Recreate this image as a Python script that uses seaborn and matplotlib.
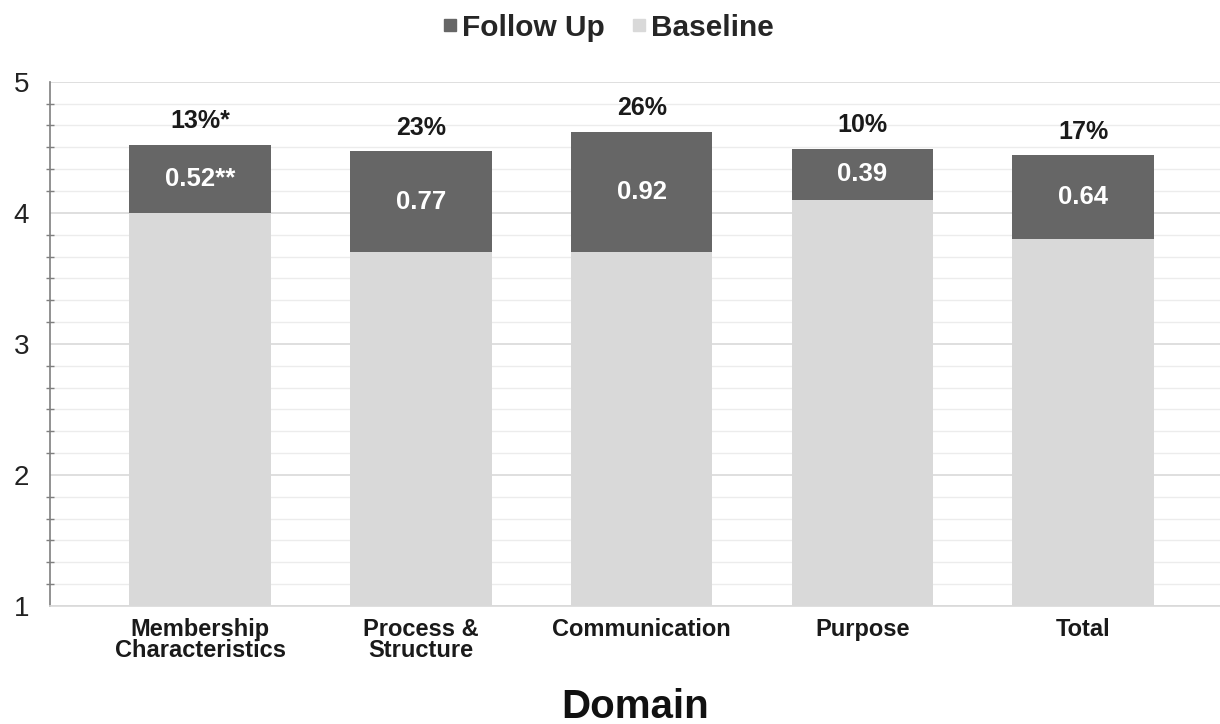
import matplotlib
matplotlib.use("Agg")
import matplotlib.pyplot as plt
from matplotlib.lines import Line2D
from matplotlib.ticker import MultipleLocator
import seaborn as sns
import pandas as pd

categories = ["Membership\nCharacteristics", "Process &\nStructure", "Communication", "Purpose", "Total"]
baseline = [4.00, 3.70, 3.70, 4.10, 3.80]
follow_up_change = [0.52, 0.77, 0.92, 0.39, 0.64]
change_labels = ["0.52**", "0.77", "0.92", "0.39", "0.64"]
pct_labels = ["13%*", "23%", "26%", "10%", "17%"]

followup_total = [b + c for b, c in zip(baseline, follow_up_change)]
df = pd.DataFrame({"Domain": categories, "Baseline": baseline, "FollowUp": followup_total})

sns.set_theme(style="white")
plt.rcParams["font.family"] = ["Liberation Sans", "DejaVu Sans"]

DARK = "#666666"
LIGHT = "#d9d9d9"

fig = plt.figure(figsize=(12.2, 7.24), dpi=100)
ax = fig.add_axes([0.041, 0.163, 0.959, 0.724])

sns.barplot(data=df, x="Domain", y="FollowUp", color=DARK, saturation=1, width=0.64, ax=ax,
            zorder=3, linewidth=0)
sns.barplot(data=df, x="Domain", y="Baseline", color=LIGHT, saturation=1, width=0.64, ax=ax,
            zorder=3, linewidth=0)

ax.set_ylim(1, 5)
ax.set_xlim(-0.68, 4.62)
ax.yaxis.set_major_locator(MultipleLocator(1))
ax.yaxis.set_minor_locator(MultipleLocator(1 / 6))
ax.grid(axis="y", which="major", color="#d9d9d9", linewidth=1.2, zorder=0)
ax.grid(axis="y", which="minor", color="#ececec", linewidth=1.0, zorder=0)
ax.grid(axis="x", visible=False)
ax.set_axisbelow(True)

for s in ["top", "right"]:
    ax.spines[s].set_visible(False)
ax.spines["left"].set_color("#7f7f7f")
ax.spines["left"].set_linewidth(1.2)
ax.spines["bottom"].set_color("#d9d9d9")
ax.spines["bottom"].set_linewidth(1.2)

ax.tick_params(axis="y", which="major", direction="inout", length=14, width=1.2, color="#7f7f7f",
               labelsize=20, labelcolor="#222222", pad=8)
ax.tick_params(axis="y", which="minor", direction="inout", length=6, width=1.0, color="#7f7f7f", left=True)
ax.tick_params(axis="x", length=0, pad=9)
for lab in ax.get_xticklabels():
    lab.set_fontweight("bold")
    lab.set_fontsize(17)
    lab.set_color("#1a1a1a")
    lab.set_linespacing(0.85)

ax.set_ylabel("")
ax.set_xlabel("Domain", fontsize=29, fontweight="bold", color="#111111", labelpad=19)

for i in range(len(categories)):
    top = followup_total[i]
    mid = baseline[i] + follow_up_change[i] / 2
    ax.text(i, mid, change_labels[i], ha="center", va="center", color="white",
            fontsize=18.5, fontweight="bold", zorder=5)
    ax.annotate(pct_labels[i], xy=(i, top), xytext=(0, 17), textcoords="offset points",
                ha="center", va="center", fontsize=18, fontweight="bold", color="#1a1a1a", zorder=5)

handles = [
    Line2D([], [], marker="s", linestyle="none", markersize=8, color=DARK, label="Follow Up"),
    Line2D([], [], marker="s", linestyle="none", markersize=8, color=LIGHT, label="Baseline"),
]
fig.legend(handles=handles, loc="center", bbox_to_anchor=(0.497, 0.962), ncol=2, frameon=False,
           prop={"weight": "bold", "size": 21.5}, handletextpad=0.05, columnspacing=0.8, handlelength=0.7)

fig.savefig("out.png", dpi=100)
